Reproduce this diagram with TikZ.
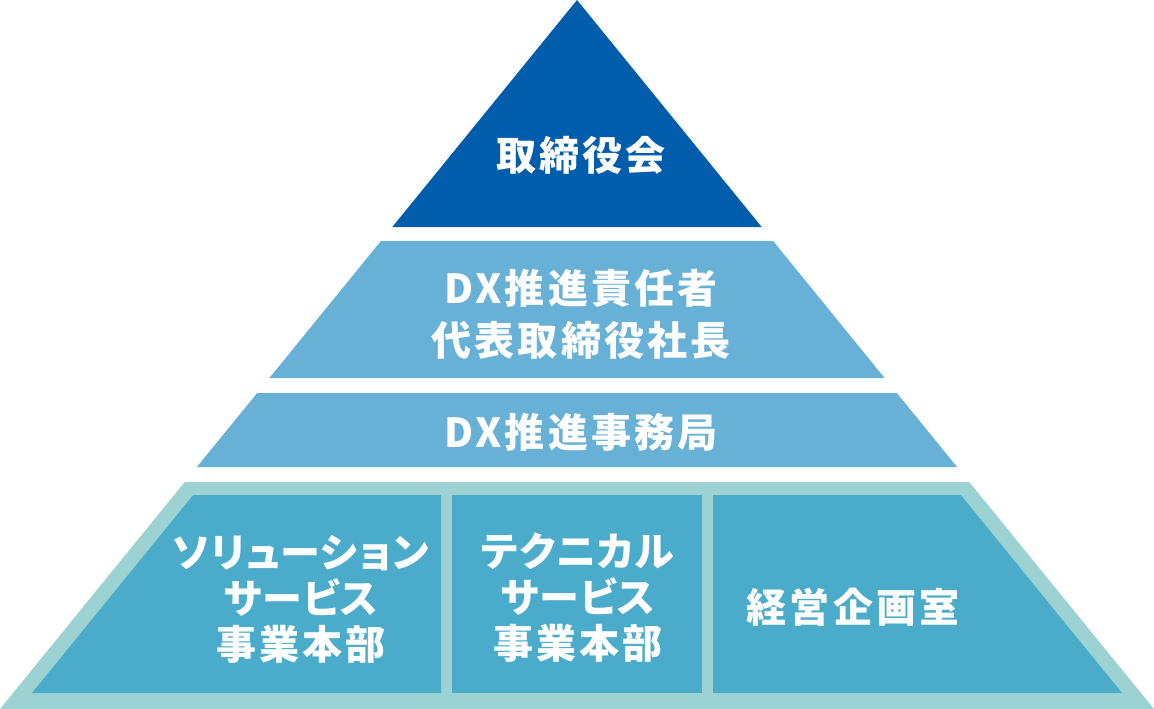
\documentclass[tikz,border=0pt]{standalone}
\usepackage{fontspec}
\setmainfont{Noto Sans CJK JP}[LetterSpace=8]
\newfontfamily\kana{Noto Sans CJK JP}[LetterSpace=3,RawFeature=+palt]
\definecolor{topblue}{HTML}{005DAC}
\definecolor{midblue}{HTML}{67B0D6}
\definecolor{baseframe}{HTML}{9CD3D2}
\definecolor{basefill}{HTML}{4AABCA}
\tikzset{
  lbl/.style={text=white, align=center, inner sep=0pt, font=\fontsize{40}{52}\selectfont\bfseries},
  lblb/.style={lbl, font=\fontsize{40}{46}\selectfont\bfseries},
}
\begin{document}
\begin{tikzpicture}[x=1pt,y=-1pt]
\useasboundingbox (0,0) rectangle (1154,709);
% top triangle
\fill[topblue] (577,0) -- (761.7,227) -- (392.3,227) -- cycle;
% layer 2
\fill[midblue] (380.9,241) -- (773.1,241) -- (884.6,378) -- (269.4,378) -- cycle;
% layer 3
\fill[midblue] (257.2,393) -- (896.8,393) -- (957.1,467) -- (196.9,467) -- cycle;
% bottom frame
\fill[baseframe] (184.7,482) -- (969.3,482) -- (1154,709) -- (0,709) -- cycle;
% inner boxes
\fill[basefill] (193.2,495) -- (441,495) -- (441,693) -- (32,693) -- cycle;
\fill[basefill] (452,495) rectangle (702,693);
\fill[basefill] (713,495) -- (960.8,495) -- (1122,693) -- (713,693) -- cycle;
% labels
\node[lbl] (t1) at (581,155) {取締役会};
\node[lbl] (t2) at (581,314) {DX推進責任者\\代表取締役社長};
\node[lbl] (t3) at (581,432) {DX推進事務局};
\node[lblb] (b1) at (301,599) {{\kana ソリューション}\\{\kana サービス}\\事業本部};
\node[lblb] (b2) at (578,598) {{\kana テクニカル}\\{\kana サービス}\\事業本部};
\node[lbl] (b3) at (853,607) {経営企画室};
\end{tikzpicture}
\end{document}
